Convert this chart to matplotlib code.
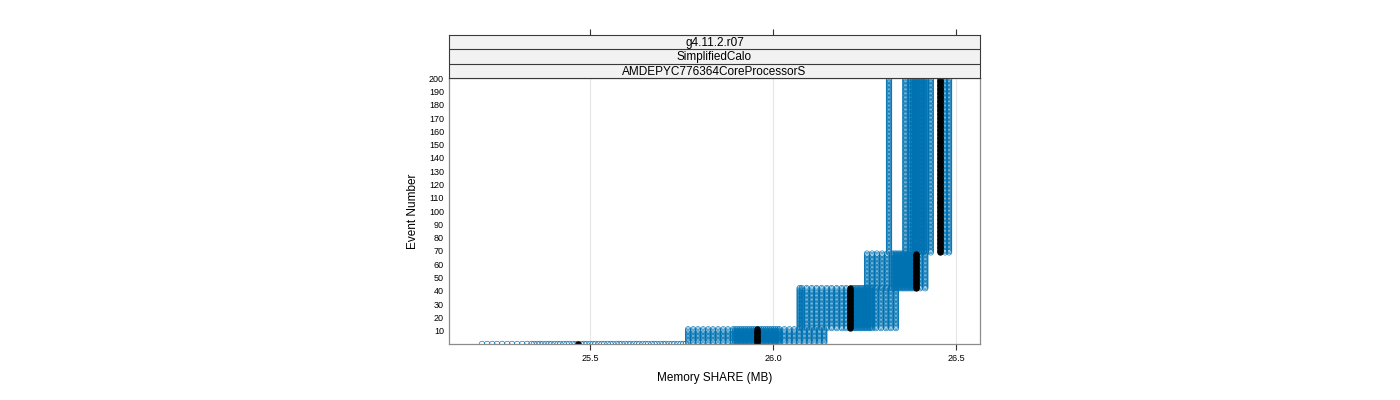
import numpy as np
import matplotlib
matplotlib.use("Agg")
import matplotlib.pyplot as plt

plt.rcParams["font.family"] = ["Liberation Sans", "DejaVu Sans"]

# strip labels, top to bottom
strip_labels = ["g4.11.2.r07", "SimplifiedCalo", "AMDEPYC776364CoreProcessorS"]

# first and last event of each memory plateau
seg_events = [(0, 0), (1, 11), (12, 42), (42, 68), (69, 200)]

# memory share (MB) of the individual runs on each plateau
seg0_mb = [25.205, 25.219, 25.233, 25.246, 25.260, 25.274, 25.287, 25.301, 25.315, 25.328,
           25.340, 25.347, 25.356, 25.363, 25.371, 25.380, 25.388, 25.395, 25.404, 25.412,
           25.419, 25.428, 25.436, 25.443, 25.452, 25.460, 25.467, 25.476, 25.484, 25.491,
           25.500, 25.508, 25.515, 25.524, 25.532, 25.539, 25.548, 25.556, 25.563, 25.572,
           25.580, 25.587, 25.596, 25.604, 25.611, 25.620, 25.628, 25.635, 25.644, 25.652,
           25.659, 25.668, 25.676, 25.683, 25.692, 25.700, 25.707, 25.716, 25.724, 25.731,
           25.740, 25.748, 25.755, 25.762]
seg1_mb = [25.768, 25.782, 25.795, 25.809, 25.823, 25.836, 25.850, 25.864, 25.877, 25.891,
           25.897, 25.902, 25.908, 25.913, 25.919, 25.924, 25.930, 25.935, 25.941, 25.946,
           25.952, 25.958, 25.963, 25.969, 25.974, 25.980, 25.985, 25.991, 25.996, 26.002,
           26.007, 26.013, 26.018,
           26.031, 26.045, 26.058, 26.072, 26.086, 26.099, 26.113, 26.127, 26.140]
seg2_mb = [26.073, 26.079,
           26.092, 26.106, 26.119, 26.133, 26.147, 26.160, 26.174, 26.188, 26.200,
           26.216, 26.221, 26.227, 26.232, 26.238, 26.243, 26.249, 26.254, 26.260, 26.265,
           26.271,
           26.281, 26.295, 26.309, 26.322, 26.336]
seg3_mb = [26.257, 26.271, 26.284, 26.298, 26.312, 26.325,
           26.331, 26.336, 26.342, 26.347, 26.353, 26.358, 26.364, 26.369, 26.375, 26.380,
           26.386,
           26.402, 26.416]
seg4_mb = [26.317, 26.362, 26.376, 26.382, 26.388, 26.394, 26.400, 26.406, 26.412, 26.418,
           26.431, 26.470, 26.481]
runs_mb = [seg0_mb, seg1_mb, seg2_mb, seg3_mb, seg4_mb]

# reference run (black), one value per plateau
ref_mb = [25.466, 25.955, 26.210, 26.392, 26.455]

xticks = [25.5, 26.0, 26.5]
yticks = list(range(10, 201, 10))

blue = "#0072B2"

fig = plt.figure(figsize=(14, 4), dpi=100)
ax = fig.add_axes([449 / 1400, 56 / 400, 531 / 1400, 266 / 400])
ax_strip = fig.add_axes([449 / 1400, 322 / 400, 531 / 1400, 43 / 400])

xlim = (25.1148, 26.5656)

# blue runs
for (e0, e1), xs in zip(seg_events, runs_mb):
    ev = np.arange(e0, e1 + 1)
    xx, yy = np.meshgrid(xs, ev)
    ax.scatter(xx.ravel(), yy.ravel(), s=16, marker="o", facecolors="none",
               edgecolors=blue, linewidths=0.45, zorder=2)

# black reference run
for (e0, e1), x in zip(seg_events, ref_mb):
    ev = np.arange(e0, e1 + 1)
    ax.scatter(np.full(len(ev), x), ev, s=14, marker="o", facecolors="black",
               edgecolors="black", linewidths=0.8, zorder=3)

for t in xticks:
    ax.axvline(t, color="#e6e6e6", lw=0.8, zorder=0)

ax.set_xlim(xlim)
ax.set_ylim(0, 200.2)
ax.set_xticks(xticks)
ax.set_xticklabels(["25.5", "26.0", "26.5"])
ax.set_yticks(yticks)
ax.tick_params(axis="x", length=4.3, width=0.8, pad=3, labelsize=6.5, color="#333333")
ax.tick_params(axis="y", length=0, pad=3.6, labelsize=6.5)
for sp in ax.spines.values():
    sp.set_color("#8c8c8c")
    sp.set_linewidth(0.9)
    sp.set_zorder(4)

ax.set_xlabel("Memory SHARE (MB)", fontsize=8.5, va="center")
ax.xaxis.set_label_coords(0.5, -34 / 266)
ax.set_ylabel("Event Number", fontsize=8.5, va="center")
ax.yaxis.set_label_coords(-36 / 531, 0.5)

# strips
ax_strip.set_xlim(xlim)
ax_strip.set_ylim(0, 3)
ax_strip.set_facecolor("#f2f2f2")
ax_strip.axhline(1, color="#3a3a3a", lw=0.8)
ax_strip.axhline(2, color="#3a3a3a", lw=0.8)
for i, lab in enumerate(strip_labels):
    ax_strip.text(0.5, 2.45 - i, lab, transform=ax_strip.get_yaxis_transform(),
                  ha="center", va="center", fontsize=8.5)
ax_strip.set_xticks(xticks)
ax_strip.set_yticks([])
ax_strip.tick_params(axis="x", top=True, bottom=False, labeltop=False, labelbottom=False,
                     length=4.3, width=0.8, color="#333333")
for sp in ax_strip.spines.values():
    sp.set_color("#3a3a3a")
    sp.set_linewidth(0.8)

fig.savefig("out.png", dpi=100)
